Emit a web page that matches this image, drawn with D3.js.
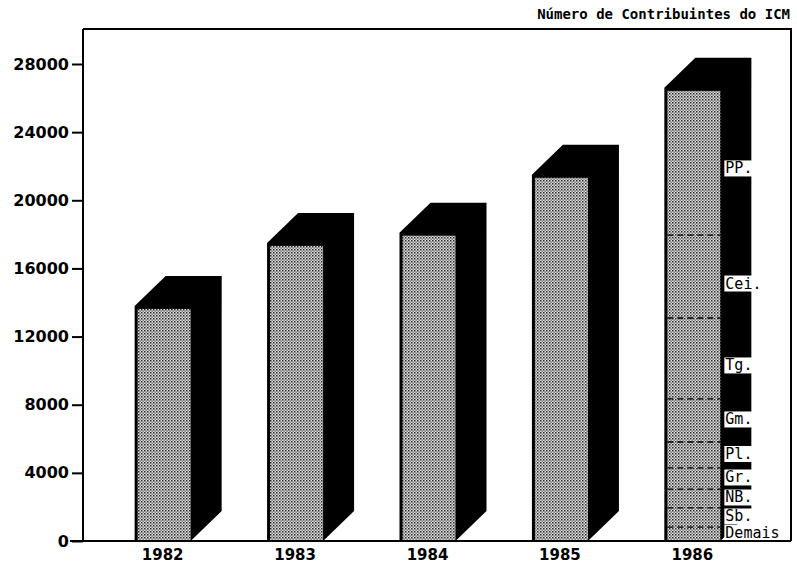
<!DOCTYPE html>
<html>
<head>
<meta charset="utf-8">
<script src="https://cdn.jsdelivr.net/npm/d3@7"></script>
<style>
  html, body { margin: 0; padding: 0; background: #fff; }
  svg { display: block; }
</style>
</head>
<body>
<svg id="chart" width="797" height="568"></svg>
<script>
// Número de contribuintes do ICM por ano
const years = ["1982", "1983", "1984", "1985", "1986"];
const contribuintes = [13800, 17500, 18100, 21500, 26600];

// Distribuição de 1986 por localidade (de baixo para cima)
const regioes1986 = ["Demais", "Sb.", "NB.", "Gr.", "Pl.", "Gm.", "Tg.", "Cei.", "PP."];
const valores1986 = [820, 1120, 1110, 1240, 1520, 2530, 4750, 4870, 8640];

const yTicks = [0, 4000, 8000, 12000, 16000, 20000, 24000, 28000];
const titulo = "Número de Contribuintes do ICM";

const frame = { left: 83, right: 791, top: 29, bottom: 541 };
const depthX = 31, depthY = 30, edge = 3;

const svg = d3.select("#chart");

// halftone fill for the bar fronts
const defs = svg.append("defs");
const pat = defs.append("pattern")
  .attr("id", "reticula")
  .attr("patternUnits", "userSpaceOnUse")
  .attr("width", 3).attr("height", 3);
pat.append("rect").attr("width", 3).attr("height", 3).attr("fill", "#dedede");
pat.append("rect").attr("x", 0).attr("y", 0).attr("width", 1.5).attr("height", 1.5).attr("fill", "#2a2a2a");
pat.append("rect").attr("x", 1.5).attr("y", 1.5).attr("width", 1.3).attr("height", 1.3).attr("fill", "#555");

const x = d3.scaleBand()
  .domain(years)
  .range([frame.left, 772])
  .paddingInner(0.577)
  .paddingOuter(0.39);

const y = d3.scaleLinear()
  .domain([0, 28000])
  .range([frame.bottom, 64]);

// title
svg.append("text")
  .attr("x", 790).attr("y", 19)
  .attr("text-anchor", "end")
  .attr("font-family", "'DejaVu Sans Mono', monospace")
  .attr("font-size", 14)
  .attr("font-weight", "bold")
  .attr("fill", "#000")
  .text(titulo);

// bars (extruded)
const bars = svg.append("g");
years.forEach((yr, i) => {
  const x0 = x(yr), x1 = x(yr) + x.bandwidth();
  const yt = y(contribuintes[i]), yb = y(0);
  bars.append("path")
    .attr("d", d3.line()([
      [x0, yt], [x0 + depthX, yt - depthY], [x1 + depthX, yt - depthY],
      [x1 + depthX, yb - depthY], [x1, yb], [x0, yb]
    ]) + "Z")
    .attr("fill", "#000");
  bars.append("rect")
    .attr("x", x0 + edge).attr("y", yt + edge)
    .attr("width", x1 - x0 - edge)
    .attr("height", yb - yt - edge)
    .attr("fill", "url(#reticula)");
});

// 1986 breakdown: dashed boundaries and region labels
const ultimo = years[years.length - 1];
const bx0 = x(ultimo), bx1 = x(ultimo) + x.bandwidth();
let acc = 0;
const segs = valores1986.map((v, i) => {
  const s = { nome: regioes1986[i], ini: acc, fim: acc + v };
  acc += v;
  return s;
});

const seg = svg.append("g");
segs.slice(0, -1).forEach(s => {
  seg.append("line")
    .attr("x1", bx0 + edge).attr("x2", bx1)
    .attr("y1", y(s.fim)).attr("y2", y(s.fim))
    .attr("stroke", "#000")
    .attr("stroke-width", 1.3)
    .attr("stroke-dasharray", "6,4");
});

segs.forEach(s => {
  const h = y(s.ini) - y(s.fim);
  const cy = (y(s.ini) + y(s.fim)) / 2 + (h > 50 ? 7 : -1);
  const g = seg.append("g");
  const t = g.append("text")
    .attr("x", bx1 + 5).attr("y", cy)
    .attr("dominant-baseline", "central")
    .attr("font-family", "'DejaVu Sans Mono', monospace")
    .attr("font-size", 15)
    .attr("fill", "#000")
    .text(s.nome);
  const bb = t.node().getBBox();
  g.insert("rect", "text")
    .attr("x", bx1 + 4).attr("y", cy - 8)
    .attr("width", bb.width + 2).attr("height", 16)
    .attr("fill", "#fff");
});

// frame
const fr = svg.append("g").attr("stroke", "#000").attr("fill", "none").attr("stroke-width", 2);
fr.append("path").attr("d", d3.line()([
  [frame.left, frame.top], [frame.right, frame.top], [frame.right, frame.bottom]
]));
fr.append("line")
  .attr("x1", 70).attr("x2", frame.right)
  .attr("y1", frame.bottom).attr("y2", frame.bottom);

// y axis
const yAxis = svg.append("g")
  .attr("transform", `translate(${frame.left},0)`)
  .call(d3.axisLeft(y).tickValues(yTicks).tickSize(11).tickPadding(3).tickFormat(d3.format("d")));
yAxis.select(".domain").remove();
yAxis.append("line")
  .attr("x1", 0).attr("x2", 0)
  .attr("y1", frame.top).attr("y2", frame.bottom)
  .attr("stroke", "#000").attr("stroke-width", 2);
yAxis.selectAll(".tick line").attr("stroke", "#000").attr("stroke-width", 2);
yAxis.selectAll(".tick text")
  .attr("font-family", "'DejaVu Sans', sans-serif")
  .attr("font-size", 16)
  .attr("font-weight", "bold")
  .attr("fill", "#000");

// x axis labels
const xAxis = svg.append("g")
  .attr("transform", `translate(0,${frame.bottom})`)
  .call(d3.axisBottom(x).tickSize(0).tickPadding(8));
xAxis.select(".domain").remove();
xAxis.selectAll(".tick text")
  .attr("font-family", "'DejaVu Sans', sans-serif")
  .attr("font-size", 15)
  .attr("font-weight", "bold")
  .attr("fill", "#000");
</script>
</body>
</html>
